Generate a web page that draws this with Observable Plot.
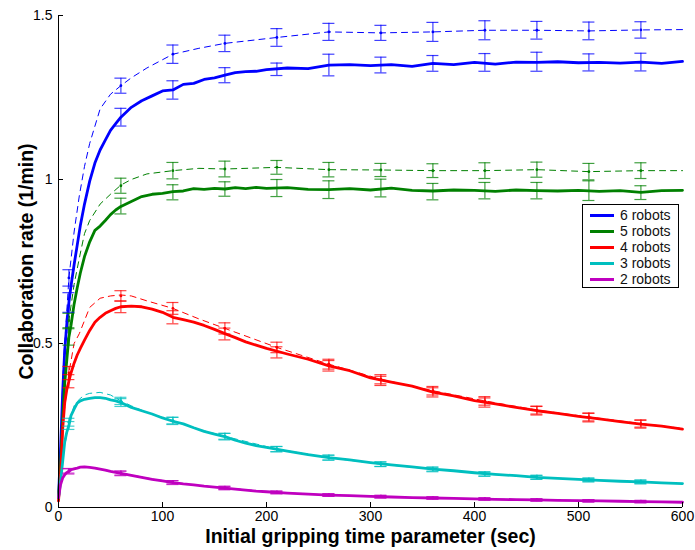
<!DOCTYPE html>
<html><head><meta charset="utf-8">
<script src="https://cdn.jsdelivr.net/npm/d3@7"></script>
<script src="https://cdn.jsdelivr.net/npm/@observablehq/plot@0.6"></script>
<style>
body{margin:0;background:#fff;font-family:"Liberation Sans",Arial,sans-serif;}
#wrap{position:relative;width:695px;height:550px;}
#legend{position:absolute;left:582px;top:204px;width:95px;height:82px;border:1px solid #000;background:#fff;font-size:14px;}
#legend .row{position:absolute;left:0;height:16px;line-height:16px;}
#legend .sw{position:absolute;left:7px;top:7px;width:24px;height:3px;}
#legend .tx{position:absolute;left:37px;top:0;white-space:nowrap;color:#111;}
</style>
</head><body>
<div id="wrap"></div>
<script>
// ---- data ----
const seriesNames = ["6 robots","5 robots","4 robots","3 robots","2 robots"];
const seriesColors = ["#0000ff","#008000","#ff0000","#00bfbf","#bf00bf"];

const xSolid = [0,2,4,6,8,10,12,15,18,21,25,30,35,40,45,50,55,60,70,80,90,100,110,120,130,140,150,160,170,180,190,200,220,240,260,280,300,320,340,360,380,400,420,440,460,480,500,520,540,560,580,600];
const solid6 = [0.03,0.18,0.35,0.48,0.56,0.625,0.675,0.74,0.80,0.86,0.925,0.995,1.05,1.09,1.12,1.15,1.17,1.19,1.22,1.24,1.255,1.27,1.273,1.29,1.293,1.305,1.31,1.318,1.326,1.329,1.33,1.335,1.34,1.338,1.349,1.35,1.347,1.35,1.345,1.354,1.35,1.357,1.352,1.358,1.357,1.359,1.356,1.357,1.355,1.358,1.354,1.36];
const solid5 = [0.03,0.13,0.27,0.38,0.45,0.52,0.555,0.62,0.67,0.715,0.765,0.81,0.845,0.858,0.875,0.893,0.907,0.918,0.933,0.948,0.955,0.958,0.963,0.965,0.972,0.97,0.973,0.971,0.975,0.972,0.976,0.973,0.975,0.97,0.969,0.972,0.968,0.974,0.967,0.965,0.968,0.967,0.964,0.968,0.966,0.965,0.967,0.964,0.966,0.961,0.966,0.967];
const solid4 = [0.02,0.10,0.24,0.32,0.36,0.385,0.41,0.44,0.465,0.485,0.51,0.54,0.565,0.58,0.592,0.60,0.607,0.612,0.614,0.612,0.605,0.595,0.58,0.573,0.565,0.555,0.543,0.53,0.518,0.505,0.495,0.485,0.468,0.452,0.432,0.417,0.395,0.382,0.37,0.352,0.34,0.326,0.316,0.305,0.295,0.287,0.278,0.27,0.262,0.254,0.248,0.239];
const solid3 = [0.03,0.08,0.14,0.20,0.23,0.25,0.28,0.30,0.318,0.325,0.33,0.333,0.335,0.335,0.333,0.328,0.325,0.32,0.305,0.295,0.285,0.273,0.263,0.255,0.243,0.232,0.224,0.216,0.205,0.196,0.189,0.183,0.172,0.161,0.152,0.145,0.137,0.13,0.124,0.117,0.112,0.106,0.101,0.097,0.092,0.089,0.086,0.083,0.08,0.078,0.075,0.073];
const solid2 = [0.03,0.07,0.09,0.10,0.107,0.11,0.115,0.118,0.12,0.123,0.124,0.122,0.12,0.117,0.114,0.11,0.107,0.104,0.098,0.092,0.086,0.081,0.076,0.072,0.069,0.065,0.062,0.059,0.056,0.053,0.05,0.048,0.044,0.041,0.038,0.036,0.034,0.032,0.03,0.029,0.028,0.026,0.025,0.024,0.023,0.022,0.021,0.02,0.019,0.018,0.017,0.016];

const xDashed = [0,2,5,10,15,20,25,30,40,50,60,70,85,110,135,160,210,260,310,360,410,460,510,560,600];
const dashed6 = [0.03,0.20,0.45,0.70,0.84,0.95,1.04,1.11,1.215,1.26,1.286,1.31,1.34,1.382,1.40,1.415,1.433,1.45,1.447,1.45,1.455,1.455,1.453,1.456,1.457];
const dashed5 = [0.03,0.14,0.33,0.57,0.68,0.76,0.835,0.875,0.925,0.955,0.983,1.0,1.017,1.027,1.034,1.032,1.037,1.03,1.029,1.027,1.027,1.03,1.024,1.027,1.027];
const dashed4 = [0.02,0.11,0.28,0.41,0.50,0.53,0.57,0.61,0.638,0.645,0.648,0.645,0.63,0.607,0.575,0.546,0.488,0.437,0.391,0.356,0.325,0.297,0.276,0.256,0.241];
const dashed3 = [0.03,0.09,0.17,0.26,0.31,0.33,0.343,0.348,0.351,0.343,0.325,0.31,0.29,0.265,0.238,0.217,0.178,0.152,0.132,0.117,0.102,0.092,0.084,0.078,0.073];
const dashed2 = [0.03,0.07,0.095,0.112,0.119,0.122,0.124,0.123,0.118,0.111,0.105,0.099,0.09,0.077,0.067,0.06,0.046,0.038,0.033,0.029,0.026,0.023,0.021,0.018,0.016];

const xBars = [10,60,110,160,210,260,310,360,410,460,510,560];
const barSolidMean = [
  [0.625,1.19,1.273,1.318,1.336,1.349,1.349,1.354,1.357,1.359,1.357,1.358],
  [0.52,0.919,0.961,0.971,0.974,0.969,0.974,0.963,0.966,0.966,0.966,0.96],
  [0.385,0.612,0.58,0.529,0.473,0.432,0.386,0.351,0.32,0.295,0.274,0.254],
  [0.25,0.32,0.264,0.216,0.178,0.152,0.132,0.116,0.102,0.092,0.084,0.078],
  [0.11,0.104,0.076,0.059,0.046,0.038,0.033,0.029,0.026,0.023,0.02,0.018]
];
const barSolidErr = [
  [0.03,0.027,0.028,0.023,0.019,0.033,0.024,0.024,0.027,0.029,0.026,0.027],
  [0.025,0.024,0.023,0.022,0.026,0.027,0.027,0.025,0.025,0.025,0.03,0.021],
  [0.02,0.018,0.02,0.018,0.017,0.016,0.014,0.014,0.014,0.013,0.013,0.012],
  [0.012,0.012,0.011,0.01,0.008,0.008,0.007,0.007,0.007,0.006,0.006,0.006],
  [0.008,0.007,0.006,0.005,0.004,0.004,0.004,0.004,0.004,0.004,0.004,0.004]
];
const barDashedMean = [
  [0.70,1.286,1.382,1.415,1.433,1.45,1.447,1.45,1.455,1.455,1.453,1.456],
  [0.57,0.981,1.027,1.032,1.037,1.03,1.029,1.027,1.027,1.03,1.024,1.027],
  [0.41,0.645,0.607,0.546,0.488,0.437,0.391,0.356,0.325,0.297,0.276,0.256],
  [0.26,0.325,0.265,0.217,0.178,0.152,0.132,0.117,0.102,0.092,0.084,0.078],
  [0.112,0.105,0.077,0.06,0.046,0.038,0.033,0.029,0.026,0.023,0.021,0.018]
];
const barDashedErr = [
  [0.025,0.023,0.028,0.025,0.027,0.026,0.023,0.029,0.029,0.027,0.027,0.025],
  [0.022,0.023,0.025,0.024,0.021,0.022,0.02,0.021,0.024,0.023,0.025,0.024],
  [0.02,0.016,0.018,0.017,0.016,0.015,0.014,0.013,0.013,0.012,0.012,0.011],
  [0.012,0.011,0.01,0.009,0.008,0.007,0.007,0.006,0.006,0.006,0.005,0.005],
  [0.007,0.006,0.005,0.005,0.004,0.004,0.004,0.003,0.003,0.003,0.003,0.003]
];

const xTicks = [0,100,200,300,400,500,600];
const yTicks = [0,0.5,1,1.5];
const xLabel = "Initial gripping time parameter (sec)";
const yLabel = "Collaboration rate (1/min)";

// ---- build tables ----
const solids = [solid6,solid5,solid4,solid3,solid2];
const dasheds = [dashed6,dashed5,dashed4,dashed3,dashed2];
const solidRows = [], dashedRows = [], barRows = [];
seriesNames.forEach((s,i)=>{
  xSolid.forEach((x,j)=>solidRows.push({s,x,y:solids[i][j]}));
  xDashed.forEach((x,j)=>dashedRows.push({s,x,y:dasheds[i][j]}));
  xBars.forEach((x,j)=>{
    barRows.push({s,x,m:barDashedMean[i][j],lo:barDashedMean[i][j]-barDashedErr[i][j],hi:barDashedMean[i][j]+barDashedErr[i][j],kind:"d"});
    barRows.push({s,x,m:barSolidMean[i][j],lo:barSolidMean[i][j]-barSolidErr[i][j],hi:barSolidMean[i][j]+barSolidErr[i][j],kind:"s"});
  });
});
const W=695,H=550,ML=58,MR=13,MT=15,MB=43;
const fw=W-ML-MR, fh=H-MT-MB;
const color = {domain: seriesNames, range: seriesColors};

const barOpts = {x1:"x",x2:"x",stroke:"s",strokeWidth:1.2,strokeOpacity:0.75,insetLeft:-6,insetRight:-6};
const plot = Plot.plot({
  width:W,height:H,marginLeft:ML,marginRight:MR,marginTop:MT,marginBottom:MB,
  x:{domain:[0,600]},
  y:{domain:[0,1.5]},
  color,
  style:{fontFamily:'"Liberation Sans",Arial,sans-serif',background:"#fff",color:"#000"},
  marks:[
    Plot.line(dashedRows,{x:"x",y:"y",z:"s",stroke:"s",strokeWidth:1,strokeDasharray:"6,5"}),
    Plot.line(solidRows,{x:"x",y:"y",z:"s",stroke:"s",strokeWidth:2.8,curve:"linear"}),
    Plot.ruleX(barRows,{x:"x",y1:"lo",y2:"hi",stroke:"s",strokeWidth:1.2,strokeOpacity:0.75}),
    Plot.ruleY(barRows,{y:"lo",...barOpts}),
    Plot.ruleY(barRows,{y:"hi",...barOpts}),
    Plot.dot(barRows.filter(d=>d.kind==="d"),{x:"x",y:"m",r:1.4,fill:"s",stroke:null}),
    Plot.ruleX([0],{stroke:"#000",strokeWidth:1}),
    Plot.ruleY([0],{stroke:"#000",strokeWidth:1}),
    Plot.tickY(yTicks,{y:d=>d,stroke:"#000",insetRight:fw-5}),
    Plot.tickX(xTicks,{x:d=>d,stroke:"#000",insetTop:fh-5}),
    Plot.axisX({ticks:xTicks,tickSize:0,tickPadding:4,fontSize:14,label:null,tickFormat:d=>String(d)}),
    Plot.axisY({ticks:yTicks,tickSize:0,tickPadding:6,fontSize:14,label:null,tickFormat:d=>String(d)}),
    Plot.text([xLabel],{frameAnchor:"bottom",dy:35,fontSize:19.5,fontWeight:"bold",fill:"#000"}),
    Plot.text([yLabel],{frameAnchor:"left",dx:-32,rotate:-90,textAnchor:"middle",fontSize:19.5,fontWeight:"bold",fill:"#000"})
  ]
});
const wrap=document.getElementById("wrap");
wrap.appendChild(plot);
// legend
const leg=document.createElement("div");leg.id="legend";
seriesNames.forEach((s,i)=>{
  const r=document.createElement("div");r.className="row";r.style.top=(2+i*16)+"px";r.style.width="95px";
  const sw=document.createElement("div");sw.className="sw";sw.style.background=seriesColors[i];
  const tx=document.createElement("div");tx.className="tx";tx.textContent=s;
  r.appendChild(sw);r.appendChild(tx);leg.appendChild(r);
});
wrap.appendChild(leg);
</script>
</body></html>
